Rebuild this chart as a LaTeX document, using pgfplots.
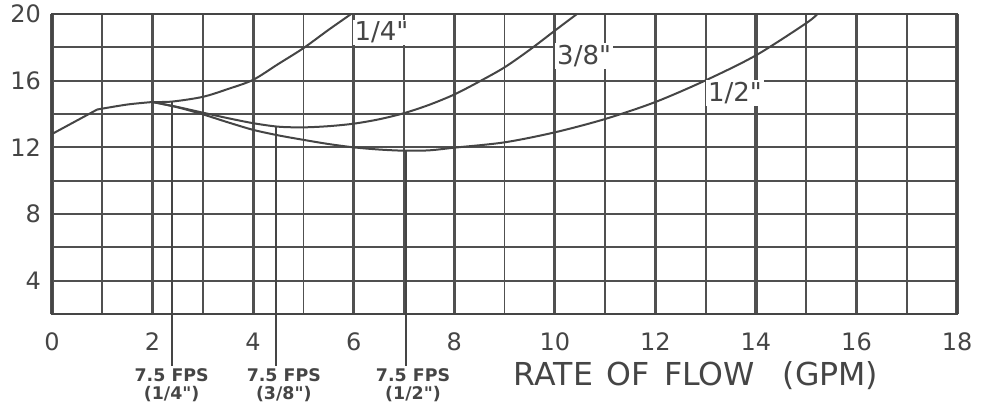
\documentclass[border=0pt]{standalone}
\usepackage{fontspec}
\setmainfont{DejaVu Sans}[Ligatures=TeXOff]
\usepackage{pgfplots}
\pgfplotsset{compat=1.18}
\definecolor{ink}{HTML}{454545}
\definecolor{gridc}{HTML}{505050}
\begin{document}
\begin{tikzpicture}
\begin{axis}[
  width=452.5pt, height=150pt, scale only axis,
  xmin=0, xmax=18, ymin=2, ymax=20,
  xtick={0,2,...,18}, ytick={4,8,12,16,20},
  minor xtick={1,3,...,17}, minor ytick={6,10,14,18},
  grid=both,
  major x grid style={gridc, line width=1.6pt},
  minor x grid style={gridc, line width=0.9pt},
  major y grid style={gridc, line width=0.9pt},
  minor y grid style={gridc, line width=0.9pt},
  axis line style={ink, line width=1.4pt},
  major tick length=0pt, minor tick length=0pt,
  tick style={draw=none},
  ticklabel style={font=\fontsize{12}{14}\selectfont, text=ink},
  xticklabel style={yshift=-6pt},
  yticklabel style={xshift=-2pt},
  /pgf/number format/assume math mode=true,
  clip=false,
]
% common start
\addplot[ink, line width=1pt] coordinates {(0,12.8) (0.9,14.27)};
\addplot[ink, line width=1pt, smooth] coordinates {(0.9,14.27) (1.5,14.57) (2,14.72)};
% 1/4 inch
\addplot[ink, line width=1pt, smooth] coordinates {
(2,14.72) (2.4,14.75) (3,15.03) (3.5,15.5) (4,16.05) (4.5,17.0) (5,17.95) (5.5,19.05) (5.95,20)};
% 3/8 inch
\addplot[ink, line width=1pt, smooth] coordinates {
(2,14.72) (2.5,14.42) (3,14.08) (3.5,13.75) (4,13.45) (4.5,13.24) (5,13.2) (5.5,13.27) (6,13.42)
(6.5,13.68) (7,14.05) (7.5,14.55) (8,15.17) (8.5,15.95) (9,16.8) (9.5,17.85) (10,19.0) (10.44,20)};
% 1/2 inch
\addplot[ink, line width=1pt, smooth] coordinates {
(2,14.72) (2.5,14.4) (3,13.98) (3.5,13.5) (4,13.05) (4.5,12.72) (5,12.45) (5.5,12.2) (6,12.0)
(6.5,11.87) (7,11.8) (7.5,11.82) (8,11.98) (9,12.3) (10,12.9) (11,13.7) (12,14.72)
(13,16.02) (14,17.52) (15,19.45) (15.22,20)};
% 7.5 FPS reference lines
\addplot[ink, line width=1pt] coordinates {(2.38,14.75) (2.38,-1.12)};
\addplot[ink, line width=1pt] coordinates {(4.46,13.22) (4.46,-1.12)};
\addplot[ink, line width=1pt] coordinates {(7.05,11.8) (7.05,-1.12)};
% curve labels
\node[fill=white, inner sep=1pt, anchor=west, font=\fontsize{13}{15}\selectfont, text=ink] at (axis cs:5.97,18.9) {1/4"};
\node[fill=white, inner sep=1pt, anchor=west, font=\fontsize{13}{15}\selectfont, text=ink] at (axis cs:10.0,17.5) {3/8"};
\node[fill=white, inner sep=1pt, anchor=west, font=\fontsize{13}{15}\selectfont, text=ink] at (axis cs:13.0,15.25) {1/2"};
% FPS labels
\node[anchor=north, inner sep=0pt, align=center, font=\bfseries\fontsize{8.7}{9}\selectfont, text=ink] at (axis cs:2.38,-1.25) {7.5 FPS\\(1/4")};
\node[anchor=north, inner sep=0pt, align=center, font=\bfseries\fontsize{8.7}{9}\selectfont, text=ink] at (axis cs:4.61,-1.25) {7.5 FPS\\(3/8")};
\node[anchor=north, inner sep=0pt, align=center, font=\bfseries\fontsize{8.7}{9}\selectfont, text=ink] at (axis cs:7.18,-1.25) {7.5 FPS\\(1/2")};
% axis title
\node[anchor=center, inner sep=0pt, font=\fontsize{15.8}{18}\selectfont, text=ink] at (axis cs:12.81,-1.72) {RATE\hspace{7pt}OF\hspace{7pt}FLOW\hspace{14pt}(GPM)};
\coordinate (bbBL) at (axis cs:-1.034,-3.28);
\coordinate (bbTR) at (axis cs:18.655,20.84);
\end{axis}
\pgfresetboundingbox
\path[use as bounding box] (bbBL) rectangle (bbTR);
\end{tikzpicture}
\end{document}
